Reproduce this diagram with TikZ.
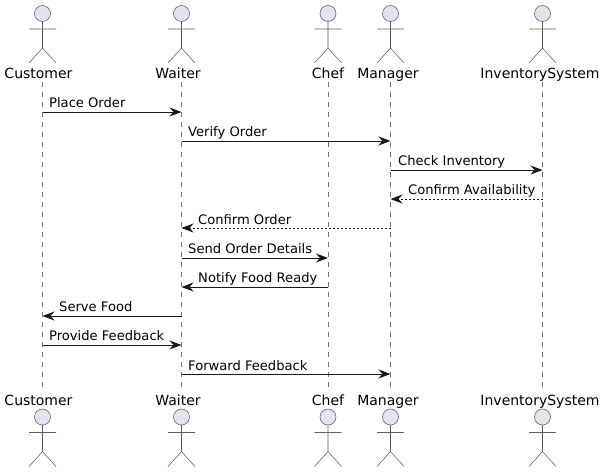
\documentclass[tikz,border=0pt]{standalone}
\usepackage{fontspec}
\setmainfont{DejaVu Sans}
\usetikzlibrary{arrows.meta}
\definecolor{ink}{HTML}{181818}
\definecolor{actorfill}{HTML}{E2E2F0}
\tikzset{
  x=1pt,y=-1pt,
  lifeline/.style={draw=ink!60,line width=0.5pt,dash pattern=on 5pt off 5pt},
  actorline/.style={draw=ink!70,line width=0.55pt},
  actorhead/.style={circle,draw=ink!70,fill=actorfill,line width=0.55pt,minimum size=16pt,inner sep=0pt},
  actorname/.style={font=\fontsize{14}{16}\selectfont,text=black,anchor=base,inner sep=0pt},
  msglabel/.style={font=\fontsize{13.1}{15}\selectfont,text=black,anchor=base west,inner sep=0pt},
  syncmsg/.style={draw=ink,line width=1pt,-{Stealth[length=12pt,width=9pt,inset=4pt]}},
  replymsg/.style={draw=ink,line width=0.9pt,dash pattern=on 2pt off 2pt,-{Stealth[length=12pt,width=9pt,inset=4pt,line width=0.9pt,sep=0pt]}},
}
\newcommand{\stickman}[3]{% name, x, y offset
  \node[actorhead] (#1h) at (#2,13.5+#3) {};
  \coordinate (#1n) at (#2,21.5+#3);
  \coordinate (#1p) at (#2,48+#3);
  \coordinate (#1al) at (#2-13.5,29+#3);
  \coordinate (#1ar) at (#2+13.5,29+#3);
  \coordinate (#1ll) at (#2-13.5,63+#3);
  \coordinate (#1lr) at (#2+13.5,63+#3);
  \draw[actorline] (#1n) -- (#1p) (#1al) -- (#1ar) (#1ll) -- (#1p) -- (#1lr);
}
\begin{document}
\begin{tikzpicture}
\useasboundingbox (0,0) rectangle (605,472);
% lifelines (behind everything)
\foreach \n/\x in {cu/42.5,wa/181.5,ch/328,ma/390.5,in/542.5}{
  \coordinate (\n T) at (\x,82);
  \coordinate (\n B) at (\x,392);
  \draw[lifeline] (\n T) -- (\n B);
}
% actors
\stickman{cuA}{42.5}{0}
\stickman{waA}{181.5}{0}
\stickman{chA}{328}{0}
\stickman{maA}{390.5}{0}
\stickman{inA}{542.5}{0}
\stickman{cuZ}{42.5}{403.5}
\stickman{waZ}{181.5}{403.5}
\stickman{chZ}{328}{403.5}
\stickman{maZ}{390.5}{403.5}
\stickman{inZ}{542.5}{403.5}
\node[actorname] (cuname) at (38.5,78) {Customer};
\node[actorname] (waname) at (178,78) {Waiter};
\node[actorname] (chname) at (328,78) {Chef};
\node[actorname] (maname) at (388,78) {Manager};
\node[actorname] (inname) at (540,78) {InventorySystem};
\node[actorname] (cuname2) at (38.5,405) {Customer};
\node[actorname] (waname2) at (178,405) {Waiter};
\node[actorname] (chname2) at (328,405) {Chef};
\node[actorname] (maname2) at (388,405) {Manager};
\node[actorname] (inname2) at (540,405) {InventorySystem};
% messages
\foreach \i/\y/\a/\b in {1/112/cu/wa,2/141/wa/ma,3/170/ma/in,4/199/in/ma,5/228/ma/wa,6/258/wa/ch,7/287/ch/wa,8/316/wa/cu,9/345/cu/wa,10/374/wa/ma}{
  \coordinate (m\i s) at (\a T |- 0,\y);
  \coordinate (m\i e) at (\b T |- 0,\y);
}
\draw[syncmsg] (m1s) -- (m1e);
\draw[syncmsg] (m2s) -- (m2e);
\draw[syncmsg] (m3s) -- (m3e);
\draw[replymsg] (m4s) -- (m4e);
\draw[replymsg] (m5s) -- (m5e);
\draw[syncmsg] (m6s) -- (m6e);
\draw[syncmsg] (m7s) -- (m7e);
\draw[syncmsg] (m8s) -- (m8e);
\draw[syncmsg] (m9s) -- (m9e);
\draw[syncmsg] (m10s) -- (m10e);
\node[msglabel] (t1) at (49,107) {Place Order};
\node[msglabel] (t2) at (188,136) {Verify Order};
\node[msglabel] (t3) at (398,165) {Check Inventory};
\node[msglabel] (t4) at (408,194) {Confirm Availability};
\node[msglabel] (t5) at (198,224) {Confirm Order};
\node[msglabel] (t6) at (188,253) {Send Order Details};
\node[msglabel] (t7) at (198,282) {Notify Food Ready};
\node[msglabel] (t8) at (59,311) {Serve Food};
\node[msglabel] (t9) at (49,340) {Provide Feedback};
\node[msglabel] (t10) at (188,370) {Forward Feedback};
\end{tikzpicture}
\end{document}
